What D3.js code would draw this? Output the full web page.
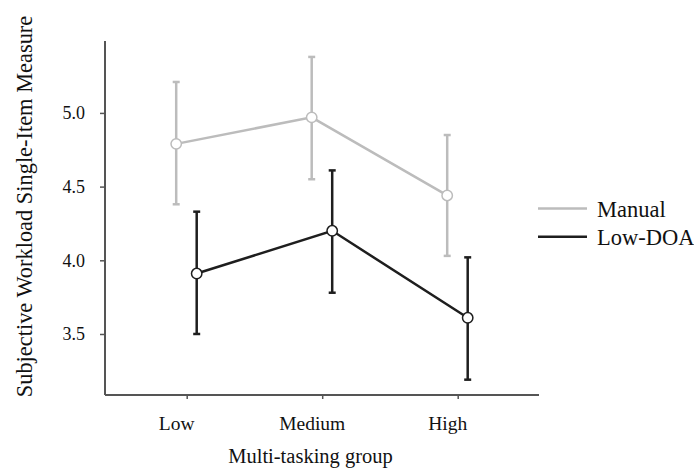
<!DOCTYPE html>
<html>
<head>
<meta charset="utf-8">
<script src="https://cdn.jsdelivr.net/npm/d3@7"></script>
<style>
  html, body { margin: 0; padding: 0; background: #fff; }
  svg { display: block; }
  text { font-family: "Liberation Serif", "Times New Roman", serif; fill: #111; }
</style>
</head>
<body>
<svg id="chart" width="694" height="468"></svg>
<script>
const categories = ["Low", "Medium", "High"];
const seriesNames = ["Manual", "Low-DOA"];
const manualMean = [4.79, 4.97, 4.44];
const manualLow  = [4.38, 4.55, 4.03];
const manualHigh = [5.21, 5.38, 4.85];
const doaMean = [3.91, 4.20, 3.61];
const doaLow  = [3.50, 3.78, 3.19];
const doaHigh = [4.33, 4.61, 4.02];
const yTicks = [3.5, 4.0, 4.5, 5.0];

(function () {
const svg = d3.select("#chart");
const mLeft = 105, mRight = 539, mTop = 41, mBottom = 395;

const x = d3.scalePoint().domain(categories).range([186.7, 457.7]);
const y = d3.scaleLinear().domain([3.086, 5.488]).range([mBottom, mTop]);

const series = [
  { name: seriesNames[0], mean: manualMean, lo: manualLow, hi: manualHigh, color: "#bcbcbc", dx: -10.5 },
  { name: seriesNames[1], mean: doaMean, lo: doaLow, hi: doaHigh, color: "#1e1e1e", dx: 10 }
];

// Axes
const yAxis = d3.axisLeft(y).tickValues(yTicks).tickFormat(d3.format(".1f")).tickSize(5).tickPadding(15);
const gy = svg.append("g").attr("transform", `translate(${mLeft},0)`).call(yAxis);
gy.select(".domain").attr("d", `M0,${mTop}V${mBottom}`);
const xAxis = d3.axisBottom(x).tickSize(4).tickPadding(17.5);
const gx = svg.append("g").attr("transform", `translate(0,${mBottom})`).call(xAxis);
gx.select(".domain").attr("d", `M${mLeft},0H${mRight}`);
[gy, gx].forEach(g => {
  g.attr("font-family", '"Liberation Serif", serif');
  g.selectAll(".domain").attr("stroke", "#555").attr("stroke-width", 2);
  g.selectAll(".tick line").attr("stroke", "#555").attr("stroke-width", 1.5);
  g.selectAll(".tick text").attr("fill", "#111");
});
gy.attr("font-size", 18);
gx.attr("font-size", 19.5);
gx.selectAll(".tick text").attr("dx", -10.5);

// Series
series.forEach(s => {
  const g = svg.append("g");
  const px = (d, i) => x(categories[i]) + s.dx;
  categories.forEach((c, i) => {
    const cx = x(c) + s.dx;
    g.append("line").attr("x1", cx).attr("x2", cx).attr("y1", y(s.lo[i])).attr("y2", y(s.hi[i]))
      .attr("stroke", s.color).attr("stroke-width", 2.5);
    [s.lo[i], s.hi[i]].forEach(v => {
      g.append("line").attr("x1", cx - 3.5).attr("x2", cx + 3.5).attr("y1", y(v)).attr("y2", y(v))
        .attr("stroke", s.color).attr("stroke-width", 2.5);
    });
  });
  const line = d3.line().x((d, i) => px(d, i)).y(d => y(d));
  g.append("path").datum(s.mean).attr("d", line).attr("fill", "none")
    .attr("stroke", s.color).attr("stroke-width", 2.5);
  g.selectAll("circle").data(s.mean).join("circle")
    .attr("cx", (d, i) => px(d, i)).attr("cy", d => y(d)).attr("r", 5.2)
    .attr("fill", "#fff").attr("stroke", s.color).attr("stroke-width", 1.5);
});

// Legend
const legend = svg.append("g");
series.forEach((s, i) => {
  const ly = 208.5 + i * 28.3;
  legend.append("line").attr("x1", 538).attr("x2", 587).attr("y1", ly).attr("y2", ly)
    .attr("stroke", s.color).attr("stroke-width", 2.5);
  legend.append("text").attr("x", 597).attr("y", ly + 8).style("font-size", "22.5px").text(s.name);
});

// Axis titles
svg.append("text").attr("x", 310.5).attr("y", 463).attr("text-anchor", "middle")
  .style("font-size", "20.5px").text("Multi-tasking group");
svg.append("text").attr("transform", "translate(32,206.5) rotate(-90)").attr("text-anchor", "middle")
  .style("font-size", "22.4px").text("Subjective Workload Single-Item Measure");
})();
</script>
</body>
</html>
